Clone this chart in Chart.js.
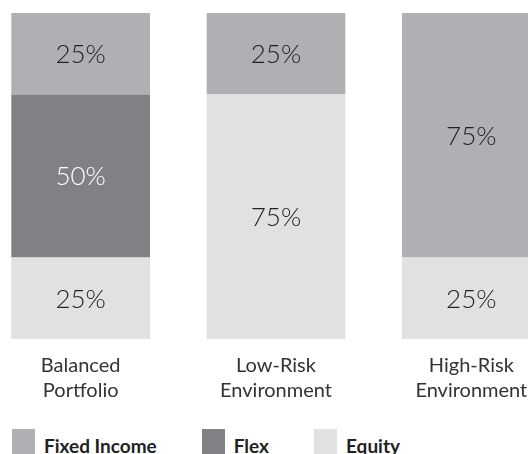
<!DOCTYPE html>
<html>
<head>
<meta charset="utf-8">
<script src="https://cdn.jsdelivr.net/npm/chart.js@4"></script>
<style>
  html, body { margin: 0; padding: 0; background: #fff; overflow: hidden; }
  body { width: 528px; height: 454px; position: relative; font-family: Lato, sans-serif; }
  #wrap { position: absolute; left: -17px; top: 0; width: 586px; height: 417px; }
  #legend { position: absolute; left: 12px; top: 429px; display: flex; gap: 45px; }
  .item { display: flex; align-items: flex-start; }
  .swatch { width: 23px; height: 25px; margin-right: 9px; }
  .text { font: bold 19px Lato, sans-serif; color: #222; line-height: 25px; position: relative; top: 4px; }
</style>
</head>
<body>
<div id="wrap"><canvas id="barChart"></canvas></div>
<div id="legend"></div>
<script>
var categories = [['Balanced', 'Portfolio'], ['Low-Risk', 'Environment'], ['High-Risk', 'Environment']];
var equity = [25, 75, 25];
var flex = [50, 0, 0];
var fixedIncome = [25, 25, 75];

// draws the % value in the middle of each segment
var segmentLabels = {
    id: 'segmentLabels',
    afterDatasetsDraw: function (chart) {
        var ctx = chart.ctx;
        chart.data.datasets.forEach(function (ds, i) {
            var meta = chart.getDatasetMeta(i);
            meta.data.forEach(function (bar, j) {
                var v = ds.data[j];
                if (!v) return;
                var p = bar.getProps(['x', 'y', 'base'], true);
                ctx.save();
                ctx.font = '300 26px Lato';
                ctx.fillStyle = ds.labelColor;
                ctx.textAlign = 'center';
                ctx.textBaseline = 'middle';
                ctx.fillText(v + '%', p.x, (p.y + p.base) / 2 + 1);
                ctx.restore();
            });
        });
    }
};

var ctx = document.getElementById('barChart').getContext('2d');
var barChart = new Chart(ctx, {
    type: 'bar',
    data: {
        labels: categories,
        datasets: [{
            label: 'Equity',
            data: equity,
            backgroundColor: '#e0e1e3',
            labelColor: '#222222'
        },
        {
            label: 'Flex',
            data: flex,
            backgroundColor: '#808185',
            labelColor: '#ffffff'
        },
        {
            label: 'Fixed Income',
            data: fixedIncome,
            backgroundColor: '#afb0b3',
            labelColor: '#222222'
        }
        ]
    },
    options: {
        responsive: true,
        maintainAspectRatio: false,
        animation: false,
        layout: { padding: { top: 13, left: 0, right: 0, bottom: 0 } },
        datasets: {
            bar: { barPercentage: 0.71, categoryPercentage: 1.0, borderWidth: 0 }
        },
        plugins: {
            legend: { display: false },
            tooltip: { enabled: false }
        },
        scales: {
            x: {
                stacked: true,
                grid: { display: false, drawTicks: false },
                border: { display: false },
                ticks: {
                    color: '#333',
                    padding: 14,
                    font: { family: 'Lato', size: 20, lineHeight: 1.25 }
                }
            },
            y: {
                stacked: true,
                display: false,
                min: 0,
                max: 100
            }
        }
    },
    plugins: [segmentLabels]
});

// html legend, same order as in the picture
var legend = document.getElementById('legend');
barChart.data.datasets.slice().reverse().forEach(function (ds) {
    var item = document.createElement('div');
    item.className = 'item';
    var sw = document.createElement('div');
    sw.className = 'swatch';
    sw.style.background = ds.backgroundColor;
    var t = document.createElement('div');
    t.className = 'text';
    t.textContent = ds.label;
    item.appendChild(sw);
    item.appendChild(t);
    legend.appendChild(item);
});
</script>
</body>
</html>
